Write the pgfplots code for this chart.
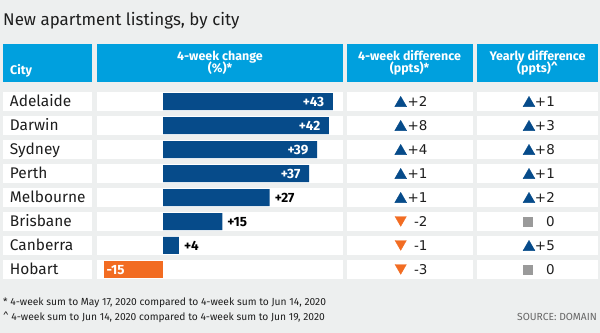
\documentclass[border=0pt]{standalone}
\usepackage{pgfplots}
\pgfplotsset{compat=1.18}
\usepackage{pgfplotstable}
\usepackage{fontspec}
\setmainfont{Fira Sans}
\newfontfamily\dejavu{DejaVu Sans}
\definecolor{bg}{HTML}{EDEFEF}
\definecolor{hdr}{HTML}{00A0DE}
\definecolor{navy}{HTML}{064B8A}
\definecolor{orng}{HTML}{F26C22}
\definecolor{sq}{HTML}{9A9A9A}
\definecolor{txt}{HTML}{1E1E1E}

\pgfplotstableread{
row city change chlab d4 d4lab dy dylab
0 Adelaide 43 +43 2 +2 1 +1
1 Darwin 42 +42 8 +8 3 +3
2 Sydney 39 +39 4 +4 8 +8
3 Perth 37 +37 1 +1 1 +1
4 Melbourne 27 +27 1 +1 2 +2
5 Brisbane 15 +15 -2 -2 0 0
6 Canberra 4 +4 -1 -1 5 +5
7 Hobart -15 -15 -3 -3 0 0
}\data

\begin{document}
\begin{tikzpicture}
\begin{scope}[x=1bp,y=-1bp]
\fill[bg] (0,0) rectangle (600,333);
% header
\fill[hdr] (3,44) rectangle (92,82);
\fill[hdr] (97,44) rectangle (343,82);
\fill[hdr] (347,44) rectangle (472.5,82);
\fill[hdr] (477,44) rectangle (598,82);
\foreach \i in {0,...,7}{
  \fill[white] (3,92+24*\i) rectangle (92,111+24*\i);
  \fill[white] (97,92+24*\i) rectangle (343,111+24*\i);
  \fill[white] (347,92+24*\i) rectangle (472.5,111+24*\i);
  \fill[white] (477,92+24*\i) rectangle (598,111+24*\i);
}
\node[anchor=base west,inner sep=0pt,text=txt,font=\fontsize{17}{20}\selectfont] at (3,25) {New apartment listings, by city};
\begin{scope}[every node/.style={inner sep=0pt,text=white,font=\bfseries\fontsize{12.5}{14}\selectfont}]
\node[anchor=base west] at (10,74) {City};
\node[anchor=base] at (220,60.5) {4-week change};
\node[anchor=base] at (220,72) {(\%)*};
\node[anchor=base] at (409.5,60.5) {4-week difference};
\node[anchor=base] at (409.5,72) {(ppts)*};
\node[anchor=base] at (537.5,60.5) {Yearly difference};
\node[anchor=base] at (537.5,72) {(ppts)\textasciicircum};
\end{scope}
\begin{scope}[every node/.style={inner sep=0pt,text=txt,font=\fontsize{10.3}{12}\selectfont}]
\node[anchor=base west] at (3,305.5) {* 4-week sum to May 17, 2020 compared to 4-week sum to Jun 14, 2020};
\node[anchor=base west] at (3,320) {\textasciicircum\ 4-week sum to Jun 14, 2020 compared to 4-week sum to Jun 19, 2020};
\node[anchor=base east,text=black!60] at (597,320) {SOURCE: DOMAIN};
\end{scope}
\end{scope}

% bars
\begin{axis}[at={(97bp,-89.5bp)}, anchor=north west, scale only axis,
  width=246bp, height=192bp, xmin=-16.709, xmax=45.57, ymin=-0.5, ymax=7.5,
  y dir=reverse, axis line style={draw=none}, tick style={draw=none},
  xtick=\empty, ytick={0,...,7},
  yticklabels={Adelaide,Darwin,Sydney,Perth,Melbourne,Brisbane,Canberra,Hobart},
  yticklabel style={anchor=base west, inner sep=0pt, xshift=-83bp, yshift=-5.3bp,
    font=\fontsize{15.5}{17}\selectfont, text=txt},
  xbar, bar width=17bp, clip=false, point meta=explicit symbolic]
\addplot[fill=navy, draw=none, bar shift=0pt, nodes near coords,
  every node near coord/.append style={anchor=base east, inner sep=0pt, text=white,
    font=\bfseries\fontsize{13.5}{15}\selectfont, xshift=-8.5bp, yshift=-5bp},
  restrict expr to domain={\thisrow{change}}{30:100}]
  table[x=change, y=row, meta=chlab] {\data};
\addplot[fill=navy, draw=none, bar shift=0pt, nodes near coords,
  every node near coord/.append style={anchor=base west, inner sep=0pt, text=black,
    font=\bfseries\fontsize{13.5}{15}\selectfont, xshift=5bp, yshift=-5bp},
  restrict expr to domain={\thisrow{change}}{0:29.9}]
  table[x=change, y=row, meta=chlab] {\data};
\addplot[fill=orng, draw=none, bar shift=0pt, nodes near coords,
  every node near coord/.append style={anchor=base west, inner sep=0pt, text=white,
    font=\bfseries\fontsize{13.5}{15}\selectfont, xshift=2.7bp, yshift=-5bp},
  restrict expr to domain={\thisrow{change}}{-100:-0.1}]
  table[x=change, y=row, meta=chlab] {\data};
\end{axis}

% difference columns
\begin{axis}[at={(0bp,-89.5bp)}, anchor=north west, scale only axis,
  width=600bp, height=192bp, xmin=0, xmax=600, ymin=-0.5, ymax=7.5,
  y dir=reverse, hide axis, clip=false]
% 4-week
\addplot[only marks, mark=triangle*, mark size=6.8bp, color=navy, mark options={yshift=-1.7bp},
  restrict expr to domain={\thisrow{d4}}{0.5:100}]
  table[x expr=400.7, y=row] {\data};
\addplot[only marks, mark=triangle*, mark size=6.5bp, color=orng, mark options={yshift=1.7bp,rotate=180},
  restrict expr to domain={\thisrow{d4}}{-100:-0.5}]
  table[x expr=400.7, y=row] {\data};
\addplot[only marks, mark=square*, mark size=4.5bp, color=sq,
  restrict expr to domain={\thisrow{d4}}{-0.5:0.5}]
  table[x expr=400.7, y=row] {\data};
\addplot[draw=none, point meta=explicit symbolic, nodes near coords,
  every node near coord/.append style={anchor=base east, inner sep=0pt, yshift=-5bp,
    font=\dejavu\fontsize{13.5}{15}\selectfont, text=txt}]
  table[x expr=427.7, y=row, meta=d4lab] {\data};
% yearly
\addplot[only marks, mark=triangle*, mark size=6.8bp, color=navy, mark options={yshift=-1.7bp},
  restrict expr to domain={\thisrow{dy}}{0.5:100}]
  table[x expr=529, y=row] {\data};
\addplot[only marks, mark=triangle*, mark size=6.5bp, color=orng, mark options={yshift=1.7bp,rotate=180},
  restrict expr to domain={\thisrow{dy}}{-100:-0.5}]
  table[x expr=529, y=row] {\data};
\addplot[only marks, mark=square*, mark size=4.5bp, color=sq,
  restrict expr to domain={\thisrow{dy}}{-0.5:0.5}]
  table[x expr=528, y=row] {\data};
\addplot[draw=none, point meta=explicit symbolic, nodes near coords,
  every node near coord/.append style={anchor=base east, inner sep=0pt, yshift=-5bp,
    font=\dejavu\fontsize{13.5}{15}\selectfont, text=txt}]
  table[x expr=555, y=row, meta=dylab] {\data};
\end{axis}
\pgfresetboundingbox
\path[use as bounding box] (0,0) rectangle (600bp,-333bp);
\end{tikzpicture}
\end{document}
